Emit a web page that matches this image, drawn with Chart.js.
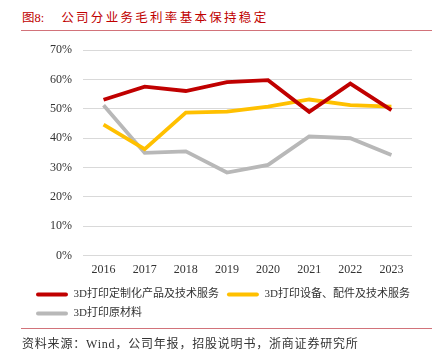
<!DOCTYPE html>
<html>
<head>
<meta charset="utf-8">
<script src="https://cdn.jsdelivr.net/npm/chart.js@4/dist/chart.umd.min.js"></script>
<style>
  html,body{margin:0;padding:0;background:#fff;}
  body{width:439px;height:356px;position:relative;overflow:hidden;}
  #title{position:absolute;left:22px;top:7px;font:12.5px 'Liberation Serif','Noto Sans CJK SC',serif;color:#c00000;letter-spacing:2.3px;white-space:nowrap;}
  #title .num{letter-spacing:0;margin-right:17px;}
  .rule{position:absolute;left:21px;width:411px;height:0;border-top:1.5px solid #d2737a;}
  #source{position:absolute;left:22px;top:334px;font:12px 'Liberation Serif','Noto Sans CJK SC',serif;color:#333;letter-spacing:0.8px;white-space:nowrap;}
  #wrap{position:absolute;left:0;top:32px;width:439px;height:297px;}
</style>
</head>
<body>
<div id="title"><span class="num">图8:</span>公司分业务毛利率基本保持稳定</div>
<div class="rule" style="top:30px"></div>
<div id="wrap"><canvas id="c"></canvas></div>
<div class="rule" style="top:328px"></div>
<div id="source">资料来源：Wind，公司年报，招股说明书，浙商证券研究所</div>
<script>
const years = ['2016','2017','2018','2019','2020','2021','2022','2023'];
const seriesNames = ['3D打印定制化产品及技术服务','3D打印设备、配件及技术服务','3D打印原材料'];
const customProducts = [53.1, 57.6, 56.1, 59.1, 59.8, 49.0, 58.6, 49.6];
const equipment      = [44.6, 36.3, 48.7, 49.1, 50.8, 53.2, 51.3, 50.8];
const materials      = [51.2, 35.0, 35.5, 28.3, 30.9, 40.6, 40.0, 34.3];
const yTicks = [0,10,20,30,40,50,60,70];
const colors = ['#c00000','#ffc000','#b8b8b8'];

const font = {family:"'Liberation Serif','Noto Sans CJK SC',serif", size:12};
new Chart(document.getElementById('c'), {
  type:'line',
  data:{
    labels: years,
    datasets:[
      {label:seriesNames[0], data:customProducts, borderColor:colors[0], backgroundColor:colors[0]},
      {label:seriesNames[1], data:equipment, borderColor:colors[1], backgroundColor:colors[1]},
      {label:seriesNames[2], data:materials, borderColor:colors[2], backgroundColor:colors[2]}
    ].map(d=>Object.assign(d,{borderWidth:3.8,pointRadius:0,tension:0,fill:false,borderCapStyle:'butt',borderJoinStyle:'miter'}))
  },
  options:{
    responsive:true, maintainAspectRatio:false, animation:false,
    layout:{padding:{left:28,right:10,top:17,bottom:0}},
    plugins:{
      tooltip:{enabled:false},
      legend:{
        position:'bottom', align:'start',
        labels:{
          boxWidth:32, boxHeight:4, padding:8, color:'#333',
          font:{family:"'Liberation Serif','Noto Sans CJK SC',serif", size:11},
          generateLabels(chart){
            return chart.data.datasets.map((d,i)=>({text:d.label, fillStyle:d.borderColor, strokeStyle:d.borderColor, lineWidth:0, borderRadius:2, datasetIndex:i, hidden:false, fontColor:'#333'}));
          }
        }
      }
    },
    scales:{
      x:{
        offset:true,
        grid:{display:false, drawTicks:false},
        border:{display:false},
        ticks:{font, color:'#333', padding:7, maxRotation:0},
        afterFit(s){ s.height -= 3; }
      },
      y:{
        min:0, max:70,
        afterBuildTicks(s){ s.ticks = yTicks.map(v=>({value:v})); },
        afterFit(s){ s.width = 55; },
        grid:{color:'#d9d9d9', lineWidth:1, drawTicks:false},
        border:{display:false},
        ticks:{font, color:'#333', padding:11, callback:v=>v+'%'}
      },
      y2:{
        position:'right', display:true,
        grid:{display:false, drawTicks:false}, border:{display:false},
        ticks:{display:false},
        afterFit(s){ s.width = 17; }
      }
    }
  }
});
</script>
</body>
</html>
